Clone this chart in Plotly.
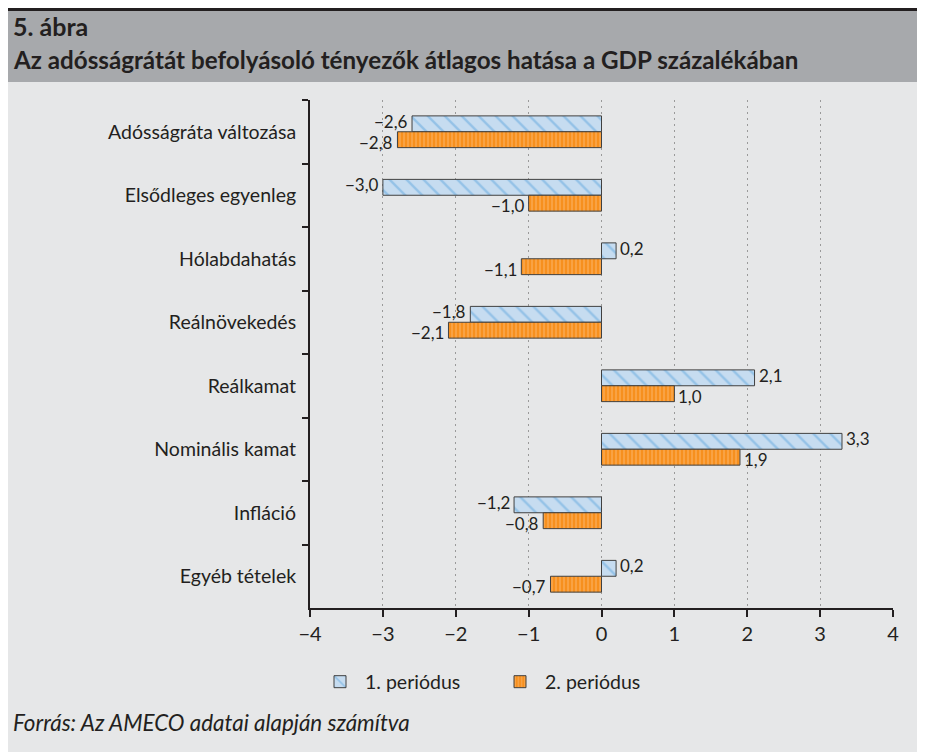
import plotly.graph_objects as go

categories = ["Adósságráta változása", "Elsődleges egyenleg", "Hólabdahatás",
              "Reálnövekedés", "Reálkamat", "Nominális kamat", "Infláció", "Egyéb tételek"]
period1 = [-2.6, -3.0, 0.2, -1.8, 2.1, 3.3, -1.2, 0.2]
period2 = [-2.8, -1.0, -1.1, -2.1, 1.0, 1.9, -0.8, -0.7]
series_names = ["1. periódus", "2. periódus"]
x_ticks = [-4, -3, -2, -1, 0, 1, 2, 3, 4]

# The page body has an 8px margin; layout numbers below are in reference pixels.
OFF = 8
W, H = 925 - OFF, 752 - OFF
L, T = 310 - OFF, 100 - OFF
PW, PH = 583, 508
R, B = W - L - PW, H - T - PH

def px(x):
    return (x - OFF - L) / PW

def py(y):
    return (T + PH - (y - OFF)) / PH

def fmt(v):
    s = f"{abs(v):.1f}".replace(".", ",")
    return ("\u2212" + s) if v < 0 else s

def fmt_int(v):
    return ("\u2212" + str(abs(v))) if v < 0 else str(v)

FONT = "Lato"
DARK = "#231f20"

fig = go.Figure()
fig.add_trace(go.Bar(
    y=categories, x=period1, orientation="h", name=series_names[0],
    marker=dict(color="#c6dcf0", line=dict(color="#404040", width=1),
                pattern=dict(shape="\\", fgcolor="#62a8de", size=12, solidity=0.2)),
))
fig.add_trace(go.Bar(
    y=categories, x=period2, orientation="h", name=series_names[1],
    marker=dict(color="#f7901e", line=dict(color="#404040", width=1),
                pattern=dict(shape="|", fgcolor="#fcc48a", size=4, solidity=0.35)),
))

shapes = [
    dict(type="rect", xref="paper", yref="paper", x0=px(0), x1=px(930), y0=py(750), y1=py(82),
         fillcolor="#e6e7e8", line=dict(width=0), layer="below"),
    dict(type="rect", xref="paper", yref="paper", x0=px(0), x1=px(930), y0=py(82), y1=py(11),
         fillcolor="#a7a9ac", line=dict(width=0), layer="below"),
    dict(type="rect", xref="paper", yref="paper", x0=px(0), x1=px(930), y0=py(11), y1=py(8),
         fillcolor="#231f20", line=dict(width=0), layer="below"),
]

annotations = [
    dict(text="<b>5. ábra</b>", xref="paper", yref="paper", x=px(11), y=py(26),
         xanchor="left", yanchor="middle", showarrow=False,
         font=dict(size=25, color=DARK, family=FONT)),
    dict(text="<b>Az adósságrátát befolyásoló tényezők átlagos hatása a GDP százalékában</b>",
         xref="paper", yref="paper", x=px(11), y=py(60),
         xanchor="left", yanchor="middle", showarrow=False,
         font=dict(size=24.2, color=DARK, family=FONT)),
    dict(text="<i>Forrás: Az AMECO adatai alapján számítva</i>",
         xref="paper", yref="paper", x=px(11), y=py(722),
         xanchor="left", yanchor="middle", showarrow=False,
         font=dict(size=22.4, color=DARK, family=FONT)),
]

# value labels next to bar ends (blue bar above, orange bar below the category centre)
for values, yshift in ((period1, 10.5), (period2, -10.5)):
    for cat, v in zip(categories, values):
        annotations.append(dict(
            text=fmt(v), xref="x", yref="y", x=v, y=cat,
            xanchor="right" if v < 0 else "left", yanchor="middle",
            xshift=-2 if v < 0 else 2, yshift=yshift, showarrow=False,
            font=dict(size=17, color=DARK, family=FONT)))

fig.update_layout(
    width=W, height=H,
    margin=dict(l=L, r=R, t=T, b=B),
    paper_bgcolor="#e6e7e8", plot_bgcolor="#e6e7e8",
    barmode="group", bargap=0.5, bargroupgap=0,
    font=dict(family=FONT, size=19.5, color=DARK),
    shapes=shapes, annotations=annotations,
    showlegend=True,
    legend=dict(orientation="h", x=px(315), y=py(682), xanchor="left", yanchor="middle",
                bgcolor="rgba(0,0,0,0)", font=dict(size=19.5, color=DARK, family=FONT),
                itemwidth=40, entrywidth=125, tracegroupgap=0),
    xaxis=dict(range=[-4, 4], tickvals=x_ticks, ticktext=[fmt_int(v) for v in x_ticks],
               showgrid=True, gridcolor="#9a9a9a", griddash="2px,4px", gridwidth=1,
               zeroline=False, showline=True, linecolor=DARK, linewidth=2,
               ticks="outside", ticklen=7, tickwidth=2, tickcolor=DARK,
               tickfont=dict(size=20, color=DARK, family=FONT)),
    yaxis=dict(autorange="reversed", showgrid=False, zeroline=False,
               showline=True, linecolor=DARK, linewidth=2,
               ticks="outside", tickson="boundaries", ticklen=6, tickwidth=2, tickcolor=DARK,
               tickfont=dict(size=19.5, color=DARK, family=FONT), ticklabelstandoff=8),
)

fig.write_html("out.html")
